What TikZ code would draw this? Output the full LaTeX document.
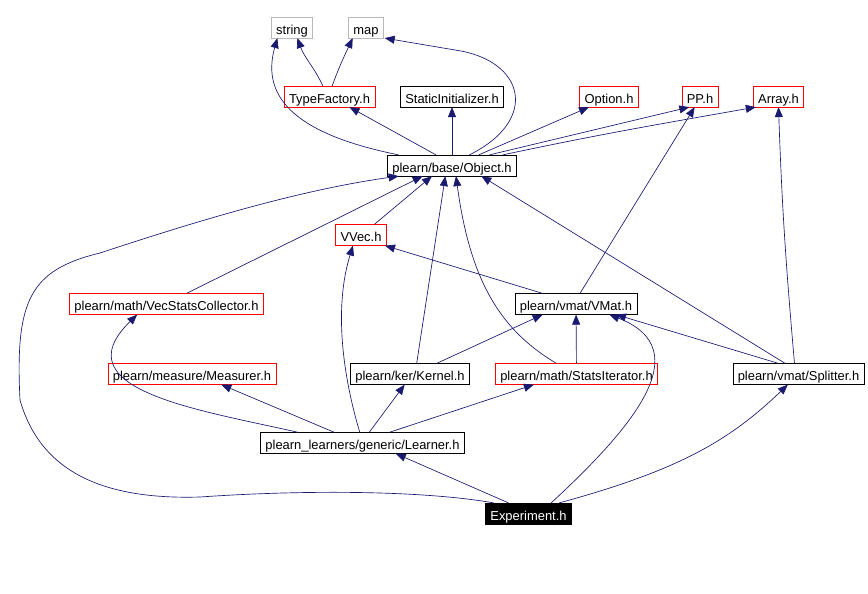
\documentclass[tikz,border=0pt]{standalone}
\usepackage{fontspec}
\setmainfont{Liberation Sans}
\usetikzlibrary{arrows.meta}
\definecolor{edgeblue}{RGB}{25,25,112}
\begin{document}
\begin{tikzpicture}[x=0.75pt, y=-0.75pt,
    every node/.style={draw, inner xsep=3.6pt, inner ysep=0pt, minimum height=15.5pt,
        text height=10pt, text depth=0pt, font=\fontsize{9.7}{11}\selectfont},
    extbox/.style={draw=gray!55},
    redbox/.style={draw=red},
    blackbox/.style={draw=black},
    focusbox/.style={fill=black, text=white},
    dep/.style={edgeblue, line width=0.5pt, -{Triangle[length=7.5pt,width=6pt]}}]
    \useasboundingbox (0,0) rectangle (868,593);
    % Headers
    \node[extbox] (string) at (292,27.5) {string};
    \node[extbox] (map) at (366,27.5) {map};
    \node[redbox] (typefactory) at (329.5,96.5) {TypeFactory.h};
    \node[blackbox] (staticinit) at (452,96.5) {StaticInitializer.h};
    \node[redbox] (option) at (609,96.5) {Option.h};
    \node[redbox] (pp) at (700,96.5) {PP.h};
    \node[redbox] (array) at (778.5,96.5) {Array.h};
    \node[blackbox] (object) at (452,165.5) {plearn/base/Object.h};
    \node[redbox] (vvec) at (361,235) {VVec.h};
    \node[redbox] (vecstats) at (166.5,304) {plearn/math/VecStatsCollector.h};
    \node[blackbox] (vmat) at (576,304) {plearn/vmat/VMat.h};
    \node[redbox] (measurer) at (192,374) {plearn/measure/Measurer.h};
    \node[blackbox] (kernel) at (410,374) {plearn/ker/Kernel.h};
    \node[redbox] (statsiter) at (576.5,374) {plearn/math/StatsIterator.h};
    \node[blackbox] (splitter) at (798.5,374) {plearn/vmat/Splitter.h};
    \node[blackbox] (learner) at (362.5,443) {plearn\_learners/generic/Learner.h};
    \node[focusbox] (experiment) at (528.5,513.5) {Experiment.h};
    % TypeFactory and Object upwards
    \draw[dep] ([xshift=-5pt]typefactory.north) to[out=115,in=-70] ([xshift=4pt]string.south);
    \draw[dep] ([xshift=2pt]typefactory.north) to[out=70,in=-115] ([xshift=-10pt]map.south);
    \draw[dep] ([xshift=-40pt]object.north) .. controls (300,135) and (260,100) .. ([xshift=-11pt]string.south);
    \draw[dep] ([xshift=13pt]object.north) .. controls (540,120) and (525,60) .. (455,50) -- ([xshift=14pt]map.south);
    \draw[dep] ([xshift=-12pt]object.north) -- ([xshift=15pt]typefactory.south);
    \draw[dep] (object) -- (staticinit);
    \draw[dep] ([xshift=20pt]object.north) -- ([xshift=-15pt]option.south);
    \draw[dep] ([xshift=28pt]object.north) -- ([xshift=-8pt]pp.south);
    \draw[dep] ([xshift=38pt]object.north) to[out=12,in=-170] ([xshift=-17pt]array.south);
    % Second row to Object
    \draw[dep] ([xshift=10pt]vvec.north) -- ([xshift=-15pt]object.south);
    \draw[dep] ([xshift=15pt]vecstats.north) -- ([xshift=-22pt]object.south);
    \draw[dep] ([xshift=-26pt]experiment.north) .. controls (420,490) and (300,490) .. (200,497)
        .. controls (100,500) and (40,470) .. (20,400)
        .. controls (15,300) and (30,270) .. (100,253)
        .. controls (200,220) and (300,190) .. ([xshift=-40pt]object.south);
    \draw[dep] ([xshift=5pt]kernel.north) -- ([xshift=-5pt]object.south);
    \draw[dep] ([xshift=-15pt]statsiter.north) .. controls (500,330) and (470,280) .. ([xshift=3pt]object.south);
    \draw[dep] ([xshift=-10pt]splitter.north) -- ([xshift=22pt]object.south);
    % VMat and Splitter
    \draw[dep] ([xshift=3pt]vmat.north) -- ([xshift=-4pt]pp.south);
    \draw[dep] ([xshift=-25pt]vmat.north) -- ([xshift=18pt]vvec.south);
    \draw[dep] ([xshift=-3pt]splitter.north) to[out=95,in=-88] (array.south);
    \draw[dep] ([xshift=20pt]kernel.north) -- ([xshift=-25pt]vmat.south);
    \draw[dep] (statsiter) -- (vmat);
    \draw[dep] ([xshift=-15pt]splitter.north) -- ([xshift=30pt]vmat.south);
    \draw[dep] ([xshift=17pt]experiment.north) .. controls (630,430) and (700,350) .. ([xshift=25pt]vmat.south);
    % Learner
    \draw[dep] ([xshift=-48pt]learner.north) .. controls (200,410) and (60,390) .. ([xshift=-22pt]vecstats.south);
    \draw[dep] ([xshift=-21pt]learner.north) -- ([xshift=22pt]measurer.south);
    \draw[dep] ([xshift=-2pt]learner.north) .. controls (350,400) and (330,320) .. ([xshift=-6pt]vvec.south);
    \draw[dep] ([xshift=5pt]learner.north) -- ([xshift=-4pt]kernel.south);
    \draw[dep] ([xshift=20pt]learner.north) -- ([xshift=-32pt]statsiter.south);
    \draw[dep] ([xshift=-15pt]experiment.north) -- ([xshift=25pt]learner.south);
    \draw[dep] ([xshift=23pt]experiment.north) .. controls (680,470) and (730,440) .. ([xshift=-8pt]splitter.south);
\end{tikzpicture}
\end{document}
